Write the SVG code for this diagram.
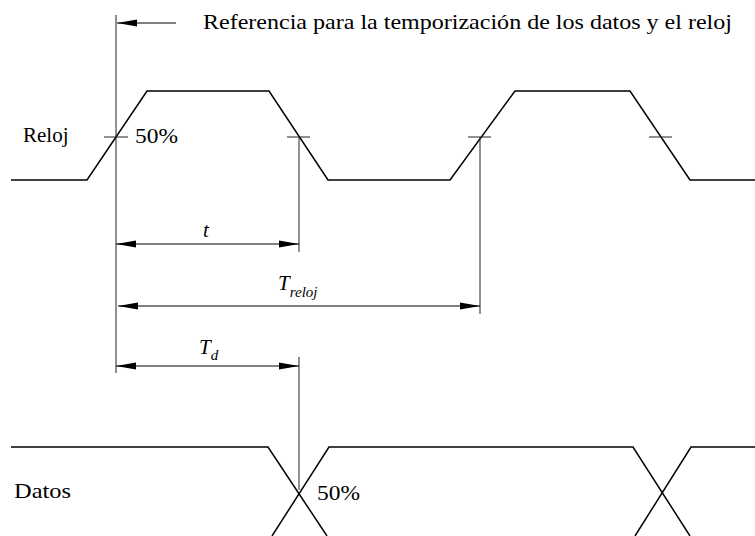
<svg xmlns="http://www.w3.org/2000/svg" width="755" height="536" viewBox="0 0 755 536">
<style>
text{font-family:"Liberation Serif","Times New Roman",serif;fill:#000}
.lbl{font-size:21px}
.it{font-style:italic}
.wave{fill:none;stroke:#000;stroke-width:1.5;stroke-linejoin:miter}
.ref{fill:none;stroke:#222;stroke-width:1}
.dim{fill:none;stroke:#000;stroke-width:1.2;marker-start:url(#ah);marker-end:url(#ah)}
</style>
<defs>
<marker id="ah" markerUnits="userSpaceOnUse" markerWidth="20" markerHeight="8" refX="20" refY="3.5" orient="auto-start-reverse" viewBox="0 0 20 7">
<path d="M0,0 L20,3.5 L0,7 Z" fill="#000"/>
</marker>
</defs>
<rect width="755" height="536" fill="#fff"/>
<g id="title">
<text class="lbl" x="203" y="29" font-size="22" textLength="529" lengthAdjust="spacingAndGlyphs">Referencia para la temporización de los datos y el reloj</text>
</g>
<g id="clock">
<text class="lbl" x="23" y="142" font-size="19">Reloj</text>
<path class="wave" d="M11,180 L87,180 L147,91 L269,91 L328,180 L450,180 L515,91 L630,91 L690,180 L755,180"/>
<path class="ref" d="M104,137 H128 M287,137 H310 M468,137 H491 M649,137 H672"/>
<text class="lbl" x="135" y="143" textLength="43" lengthAdjust="spacingAndGlyphs">50%</text>
</g>
<g id="data">
<text class="lbl" x="14" y="498" textLength="57" lengthAdjust="spacingAndGlyphs">Datos</text>
<path class="wave" d="M11,447 L268,447 L327,536 M272,536 L329,447 L633,447 L690,536 M635,536 L691,447 L755,447"/>
<text class="lbl" x="317" y="500" textLength="43" lengthAdjust="spacingAndGlyphs">50%</text>
</g>
<g id="connectors">
<path class="ref" d="M116,15 V373 M299,137 V252 M299,357 V490 M480,137 V314"/>
<path class="dim" d="M176,23 H117" style="marker-start:none"/>
<path class="dim" d="M116,244 H299"/>
<path class="dim" d="M118,306 H480"/>
<path class="dim" d="M116,366 H299"/>
</g>
<g id="labels">
<text class="lbl it" x="203" y="237">t</text>
<text class="lbl it" x="278" y="290">T<tspan font-size="15" dy="7">reloj</tspan></text>
<text class="lbl it" x="199" y="354">T<tspan font-size="15" dy="6">d</tspan></text>
</g>
</svg>
